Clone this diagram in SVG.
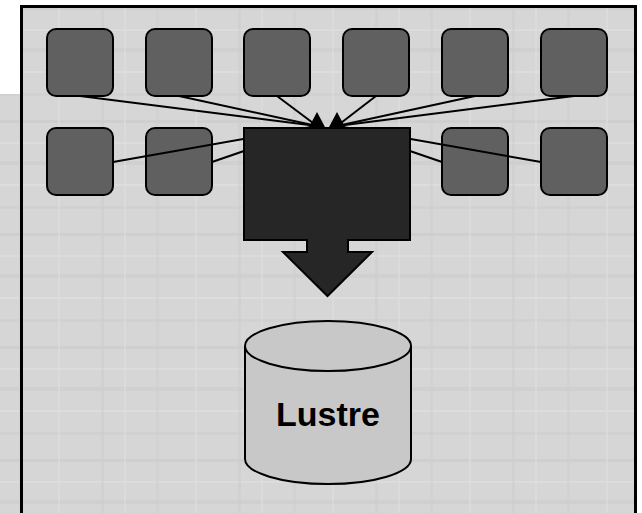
<svg xmlns="http://www.w3.org/2000/svg" width="642" height="513" viewBox="0 0 642 513">
  <defs>
    <style>
      .node { fill: #606060; stroke: #000; stroke-width: 2; }
      .link { stroke: #000; stroke-width: 2; fill: none; }
      .head { fill: #000; }
      .label { font-family: "Liberation Sans", Arial, sans-serif; font-weight: bold; font-size: 34px; fill: #000; }
    </style>
    <!-- faint newsprint-like texture for the backdrop -->
    <pattern id="grain" width="137" height="113" patternUnits="userSpaceOnUse">
      <rect width="137" height="113" fill="#d6d6d6"/>
      <rect x="0" y="7" width="137" height="3" fill="#cfcfcf"/>
      <rect x="0" y="29" width="137" height="2" fill="#dcdcdc"/>
      <rect x="0" y="48" width="137" height="4" fill="#d0d0d0"/>
      <rect x="0" y="71" width="137" height="2" fill="#dddddd"/>
      <rect x="0" y="93" width="137" height="3" fill="#d1d1d1"/>
      <rect x="19" y="0" width="3" height="113" fill="#cdcdcd" opacity="0.5"/>
      <rect x="58" y="0" width="2" height="113" fill="#dedede" opacity="0.6"/>
      <rect x="101" y="0" width="3" height="113" fill="#cccccc" opacity="0.45"/>
      <rect x="124" y="0" width="2" height="113" fill="#dddddd" opacity="0.6"/>
    </pattern>
    <path id="tip" d="M-8,15 L0,0 L8,15 Z"/>
  </defs>

  <rect width="642" height="513" fill="#fff"/>
  <!-- backdrop strip behind the panel -->
  <rect x="0" y="94" width="22" height="419" fill="url(#grain)"/>
  <!-- main panel -->
  <rect id="panel" x="21.5" y="6.5" width="614" height="520" fill="url(#grain)" stroke="#000" stroke-width="3"/>

  <g id="clients">
    <g id="n1"><rect class="node" x="47" y="29" width="66" height="67" rx="9"/></g>
    <g id="n2"><rect class="node" x="146" y="29" width="66" height="67" rx="9"/></g>
    <g id="n3"><rect class="node" x="244" y="29" width="66" height="67" rx="9"/></g>
    <g id="n4"><rect class="node" x="343" y="29" width="66" height="67" rx="9"/></g>
    <g id="n5"><rect class="node" x="442" y="29" width="66" height="67" rx="9"/></g>
    <g id="n6"><rect class="node" x="541" y="29" width="66" height="67" rx="9"/></g>
    <g id="n7"><rect class="node" x="47" y="128" width="66" height="67" rx="9"/></g>
    <g id="n8"><rect class="node" x="146" y="128" width="66" height="67" rx="9"/></g>
    <g id="n9"><rect class="node" x="442" y="128" width="66" height="67" rx="9"/></g>
    <g id="n10"><rect class="node" x="541" y="128" width="66" height="67" rx="9"/></g>
  </g>

  <g id="connectors">
    <line class="link" x1="80" y1="96" x2="317" y2="126"/>
    <line class="link" x1="179" y1="96" x2="317" y2="126"/>
    <line class="link" x1="277" y1="96" x2="317" y2="126"/>
    <line class="link" x1="113" y1="162" x2="317" y2="126"/>
    <line class="link" x1="212" y1="162" x2="317" y2="126"/>
    <line class="link" x1="376" y1="96" x2="337" y2="126"/>
    <line class="link" x1="475" y1="96" x2="337" y2="126"/>
    <line class="link" x1="574" y1="96" x2="337" y2="126"/>
    <line class="link" x1="541" y1="162" x2="337" y2="126"/>
    <line class="link" x1="442" y1="162" x2="337" y2="126"/>
  </g>

  <!-- aggregator block with its downward arrow -->
  <g id="aggregator">
    <path d="M244,128 H410 V240 H348 V252 H372 L327.5,296 L283,252 H307 V240 H244 Z" fill="#262626" stroke="#000" stroke-width="2" stroke-linejoin="miter"/>
    <use href="#tip" class="head" x="317" y="112"/>
    <use href="#tip" class="head" x="337" y="112"/>
  </g>

  <g id="lustre">
    <path d="M245,346 V459 A83,25 0 0 0 411,459 V346" fill="#c8c8c8" stroke="#000" stroke-width="2"/>
    <ellipse cx="328" cy="346" rx="83" ry="25" fill="#c8c8c8" stroke="#000" stroke-width="2"/>
    <text class="label" x="328" y="426" text-anchor="middle">Lustre</text>
  </g>
</svg>
